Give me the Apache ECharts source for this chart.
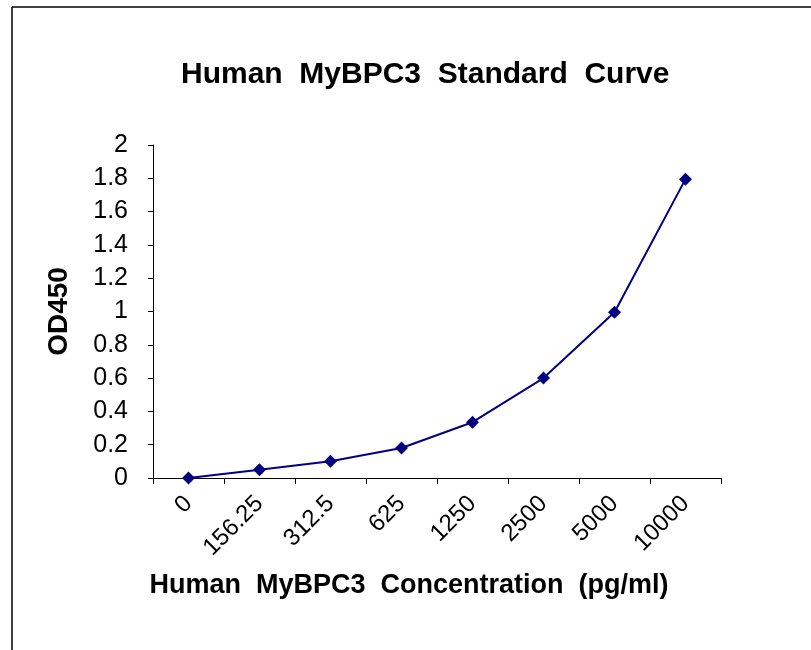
<!DOCTYPE html>
<html>
<head>
<meta charset="utf-8">
<script src="https://cdn.jsdelivr.net/npm/echarts@6/dist/echarts.min.js"></script>
<style>
  html, body { margin: 0; padding: 0; background: #fff; }
  #chart { width: 811px; height: 650px; }
</style>
</head>
<body>
<div id="chart"></div>
<script>
const concentrations = ["0", "156.25", "312.5", "625", "1250", "2500", "5000", "10000"];
const od450 = [0, 0.05, 0.1, 0.18, 0.335, 0.6, 0.995, 1.795];

const FONT = "'Liberation Sans', Arial, sans-serif";
const chart = echarts.init(document.getElementById("chart"));

const option = {
  backgroundColor: "#fff",
  animation: false,
  title: {
    text: "Human  MyBPC3  Standard  Curve",
    left: 176,
    top: 55,
    textStyle: { fontFamily: FONT, fontSize: 30, fontWeight: "bold", color: "#000" },
  },
  graphic: [
    { type: "line", shape: { x1: 12, y1: 7, x2: 811, y2: 7 }, style: { stroke: "#000", lineWidth: 1.5 } },
    { type: "line", shape: { x1: 12, y1: 7, x2: 12, y2: 650 }, style: { stroke: "#000", lineWidth: 1.5 } },
  ],
  grid: { left: 153, right: 90, top: 145, bottom: 172 },
  xAxis: {
    type: "category",
    data: concentrations,
    boundaryGap: true,
    name: "Human  MyBPC3  Concentration  (pg/ml)",
    nameLocation: "middle",
    nameGap: 94,
    nameTextStyle: { fontFamily: FONT, fontSize: 27, fontWeight: "bold", color: "#000", padding: [0, 56, 0, 0] },
    axisLine: { lineStyle: { color: "#000", width: 1 } },
    axisTick: { show: true, length: 6, inside: false, lineStyle: { color: "#000" } },
    axisLabel: { rotate: 45, fontFamily: FONT, fontSize: 24, color: "#000", margin: 22, interval: 0 },
    splitLine: { show: false },
  },
  yAxis: {
    type: "value",
    min: 0,
    max: 2,
    interval: 0.2,
    name: "OD450",
    nameLocation: "middle",
    nameGap: 80,
    nameTextStyle: { fontFamily: FONT, fontSize: 28, fontWeight: "bold", color: "#000" },
    axisLine: { show: true, lineStyle: { color: "#000", width: 1 } },
    axisTick: { show: true, length: 5, lineStyle: { color: "#000" } },
    axisLabel: { fontFamily: FONT, fontSize: 25, color: "#000", margin: 25 },
    splitLine: { show: false },
  },
  series: [
    {
      type: "line",
      data: od450,
      symbol: "diamond",
      symbolSize: 13,
      itemStyle: { color: "#000080" },
      lineStyle: { color: "#000080", width: 2 },
    },
  ],
};

chart.setOption(option);
</script>
</body>
</html>
